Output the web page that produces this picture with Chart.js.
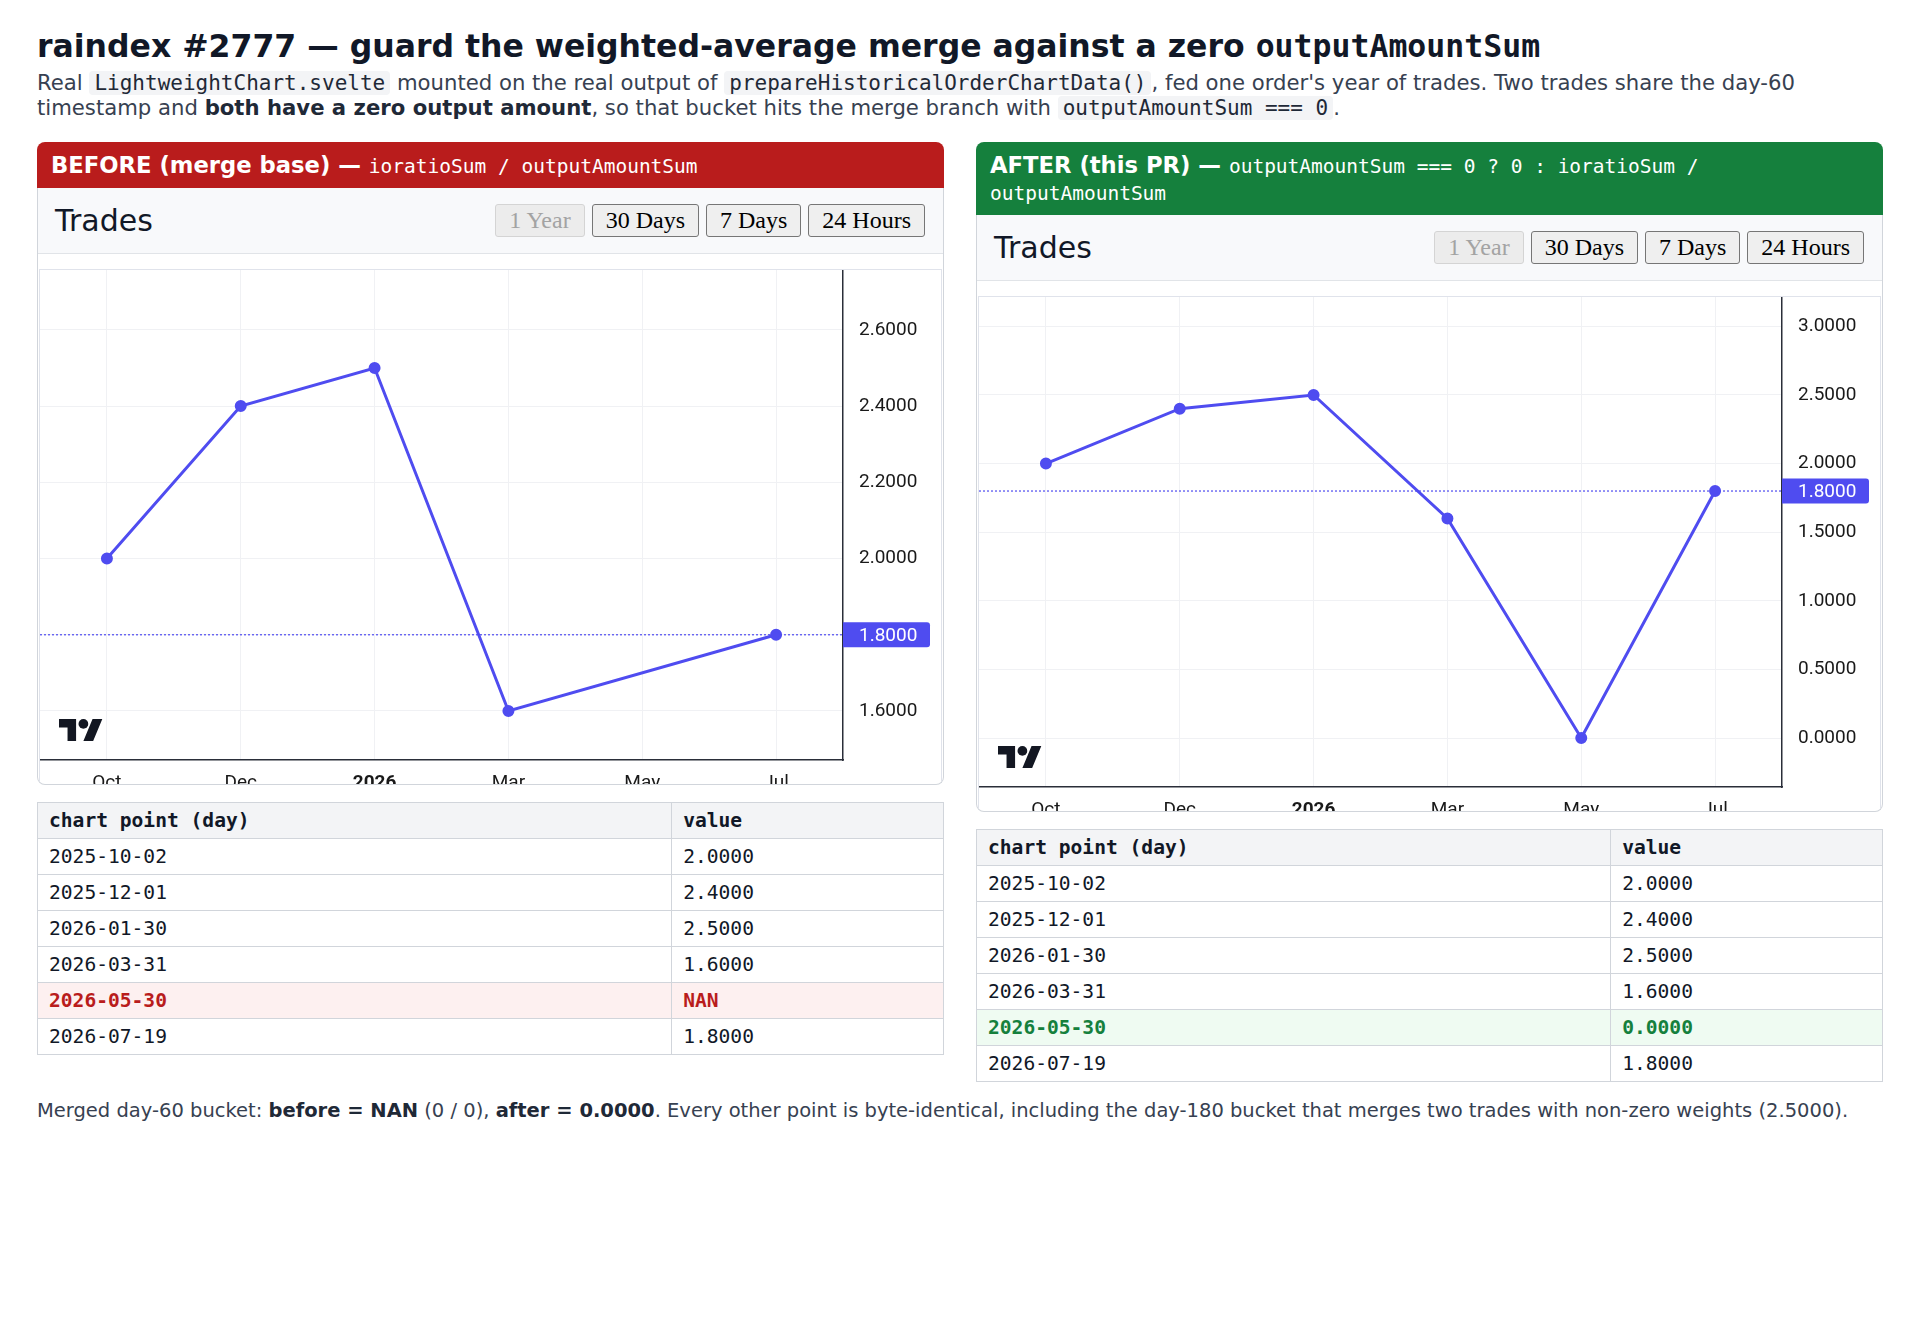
<!DOCTYPE html>
<html>
<head>
<meta charset="utf-8">
<script src="https://cdn.jsdelivr.net/npm/chart.js@4/dist/chart.umd.min.js"></script>
<style>
  body { margin: 0; padding: 28px 37px 40px; font-family: "DejaVu Sans", sans-serif; color: #374151; background: #fff; width: 1846px; }
  h1 { margin: 0; font-size: 31.5px; line-height: 36px; color: #111827; font-weight: bold; }
  h1 code { font-family: "DejaVu Sans Mono", monospace; font-weight: bold; }
  .sub { margin: 6px 0 0; font-size: 21.2px; line-height: 25px; }
  .sub strong { color: #1f2937; }
  .sub code { font-family: "DejaVu Sans Mono", monospace; font-size: 21px; line-height: 0; background: #f3f4f6; border-radius: 4px; padding: 0 5px; color: #1f2937; }
  .panels { display: grid; grid-template-columns: 1fr 1fr; gap: 32px; margin-top: 22px; align-items: start; }
  .bar { color: #fff; font-weight: bold; font-size: 22.7px; line-height: 27px; padding: 10px 14px 9px; border-radius: 8px 8px 0 0; }
  .bar code { font-family: "DejaVu Sans Mono", monospace; font-weight: normal; font-size: 19.5px; line-height: 0; }
  .before .bar { background: #b91c1c; }
  .after .bar { background: #15803d; }
  .card { border: 1px solid #d1d5db; border-top: none; border-radius: 0 0 8px 8px; background: #fff; overflow: hidden; }
  .head { height: 65px; background: #f8f9fb; border-bottom: 1px solid #e1e4e8; display: flex; align-items: center; justify-content: space-between; padding: 0 18px 0 17px; }
  .head .t { font-size: 30px; color: #111827; }
  .btns button { font-family: "Liberation Serif", serif; font-size: 24px; height: 33px; padding: 0 13px; margin-left: 7px; background: #efefef; border: 1px solid #767676; border-radius: 3px; color: #000; }
  .btns button:disabled { color: #a3a3a3; border-color: #d4d4d4; background: #ececec; }
  .clip { margin: 15px 1px 0; height: 514px; overflow: hidden; border: 1px solid #e0e3eb; border-bottom: none; }
  .box { position: relative; height: 545px; }
  table { width: 100%; border-collapse: collapse; margin-top: 17px; font-family: "DejaVu Sans Mono", monospace; font-size: 19.6px; color: #111827; }
  th, td { border: 1px solid #d1d5db; height: 35px; padding: 0 11px; text-align: left; }
  th { background: #f3f4f6; }
  th:first-child { width: 70%; }
  tr.bad td { background: #fdf0f0; color: #b91c1c; font-weight: bold; }
  tr.good td { background: #effbf2; color: #15803d; font-weight: bold; }
  .foot { margin-top: 16px; font-size: 19.5px; line-height: 25px; }
  .foot strong { color: #1f2937; }
</style>
</head>
<body>
<h1>raindex #2777 — guard the weighted-average merge against a zero <code>outputAmountSum</code></h1>
<p class="sub">Real <code>LightweightChart.svelte</code> mounted on the real output of <code>prepareHistoricalOrderChartData()</code>, fed one order's year of trades. Two trades share the day-60 timestamp and <strong>both have a zero output amount</strong>, so that bucket hits the merge branch with <code>outputAmountSum === 0</code>.</p>

<div class="panels">
  <div class="before">
    <div class="bar">BEFORE (merge base) — <code>ioratioSum / outputAmountSum</code></div>
    <div class="card">
      <div class="head"><span class="t">Trades</span><span class="btns"><button disabled>1 Year</button><button>30 Days</button><button>7 Days</button><button>24 Hours</button></span></div>
      <div class="clip"><div class="box"><canvas id="graficoAntes"></canvas></div></div>
    </div>
    <table id="tabelaAntes"></table>
  </div>
  <div class="after">
    <div class="bar">AFTER (this PR) — <code>outputAmountSum === 0 ? 0 : ioratioSum / outputAmountSum</code></div>
    <div class="card">
      <div class="head"><span class="t">Trades</span><span class="btns"><button disabled>1 Year</button><button>30 Days</button><button>7 Days</button><button>24 Hours</button></span></div>
      <div class="clip"><div class="box"><canvas id="graficoDepois"></canvas></div></div>
    </div>
    <table id="tabelaDepois"></table>
  </div>
</div>

<p class="foot">Merged day-60 bucket: <strong>before = NAN</strong> (0 / 0), <strong>after = 0.0000</strong>. Every other point is byte-identical, including the day-180 bucket that merges two trades with non-zero weights (2.5000).</p>

<script>
// time axis labels (one per bucket)
const categorias = ["Oct", "Dec", "2026", "Mar", "May", "Jul"];
const diasPontos = ["2025-10-02", "2025-12-01", "2026-01-30", "2026-03-31", "2026-05-30", "2026-07-19"];

// weighted-average value per bucket
const valoresAntes = [2.0, 2.4, 2.5, 1.6, NaN, 1.8];
const valoresDepois = [2.0, 2.4, 2.5, 1.6, 0.0, 1.8];

// price scale ticks and visible range
const ticksAntes = [1.6, 1.8, 2.0, 2.2, 2.4, 2.6];
const ticksDepois = [0, 0.5, 1.0, 1.5, 2.0, 2.5, 3.0];
const faixaAntes = [1.4714, 2.7571];
const faixaDepois = [-0.357, 3.214];

const corLinha = "#4f4cf0";
const corGrade = "#f0f1f4";
const corEixo = "#2a2e39";
const corTexto = "#191919";

// dotted line + label at the last value, like the lightweight-charts price line
const linhaPreco = {
  id: "linhaPreco",
  beforeDatasetsDraw(chart) {
    const dados = chart.data.datasets[0].data;
    const y = chart.scales.y.getPixelForValue(dados[dados.length - 1]);
    const ctx = chart.ctx;
    ctx.save();
    ctx.strokeStyle = corLinha;
    ctx.lineWidth = 1.2;
    ctx.setLineDash([2, 2]);
    ctx.beginPath();
    ctx.moveTo(chart.chartArea.left, y);
    ctx.lineTo(chart.chartArea.right, y);
    ctx.stroke();
    ctx.restore();
  },
  afterDraw(chart) {
    const dados = chart.data.datasets[0].data;
    const ultimo = dados[dados.length - 1];
    const y = chart.scales.y.getPixelForValue(ultimo);
    const x = chart.chartArea.right;
    const ctx = chart.ctx;
    ctx.save();
    ctx.fillStyle = corLinha;
    ctx.beginPath();
    ctx.roundRect(x, y - 12.5, 87, 25, [0, 3, 3, 0]);
    ctx.fill();
    ctx.fillStyle = "#fff";
    ctx.font = "19px Roboto";
    ctx.textBaseline = "middle";
    ctx.fillText(ultimo.toFixed(4), x + 16, y + 1);
    ctx.restore();
  }
};

// TradingView attribution logo
const logoTV = {
  id: "logoTV",
  afterDraw(chart) {
    const ctx = chart.ctx;
    const s = 1.22;
    const x0 = chart.chartArea.left + 19;
    const y0 = chart.chartArea.bottom - 19 - 18 * s;
    ctx.save();
    ctx.translate(x0, y0);
    ctx.scale(s, s);
    ctx.fillStyle = "#131722";
    ctx.fill(new Path2D("M14 18H7V7H0V0h14v18zM28 18h-8l7.5-18h8L28 18z"));
    ctx.beginPath();
    ctx.arc(20, 4, 4, 0, Math.PI * 2);
    ctx.fill();
    ctx.restore();
  }
};

function criarGrafico(id, valores, ticks, faixa) {
  const fonte = { family: "Roboto", size: 19 };
  return new Chart(document.getElementById(id), {
    type: "line",
    data: {
      labels: categorias,
      datasets: [{
        data: valores.map(v => (isNaN(v) ? null : v)),
        borderColor: corLinha,
        backgroundColor: corLinha,
        borderWidth: 3,
        pointRadius: 4.5,
        pointHoverRadius: 4.5,
        spanGaps: true,
        tension: 0,
      }],
    },
    options: {
      responsive: true,
      maintainAspectRatio: false,
      animation: false,
      layout: { padding: 0, autoPadding: false },
      plugins: { legend: { display: false }, tooltip: { enabled: false } },
      scales: {
        x: {
          offset: true,
          grid: { offset: false, color: corGrade, drawTicks: false },
          border: { color: corEixo, width: 1.5 },
          ticks: {
            color: corTexto,
            padding: 12,
            maxRotation: 0,
            autoSkip: false,
            font: ctx => ({ family: "Roboto", size: 19, weight: categorias[ctx.index] === "2026" ? "bold" : "normal" }),
          },
          afterFit: escala => {
            escala.height = 55;
            escala.paddingLeft = 0;
            escala.paddingRight = 0;
          },
        },
        y: {
          position: "right",
          min: faixa[0],
          max: faixa[1],
          grid: { color: corGrade, drawTicks: false },
          border: { color: corEixo, width: 1.5 },
          ticks: { color: corTexto, padding: 16, font: fonte, callback: v => Number(v).toFixed(4) },
          afterBuildTicks: escala => { escala.ticks = ticks.map(v => ({ value: v })); },
          afterFit: escala => {
            escala.width = 98;
            escala.paddingTop = 0;
            escala.paddingBottom = 0;
          },
        },
      },
    },
    plugins: [linhaPreco, logoTV],
  });
}

function montarTabela(id, valores, classe) {
  const tabela = document.getElementById(id);
  let html = "<tr><th>chart point (day)</th><th>value</th></tr>";
  diasPontos.forEach((dia, i) => {
    const v = valores[i];
    const texto = isNaN(v) ? "NAN" : v.toFixed(4);
    const destaque = dia === "2026-05-30" ? ` class="${classe}"` : "";
    html += `<tr${destaque}><td>${dia}</td><td>${texto}</td></tr>`;
  });
  tabela.innerHTML = html;
}

montarTabela("tabelaAntes", valoresAntes, "bad");
montarTabela("tabelaDepois", valoresDepois, "good");
criarGrafico("graficoAntes", valoresAntes, ticksAntes, faixaAntes);
criarGrafico("graficoDepois", valoresDepois, ticksDepois, faixaDepois);
</script>
</body>
</html>
